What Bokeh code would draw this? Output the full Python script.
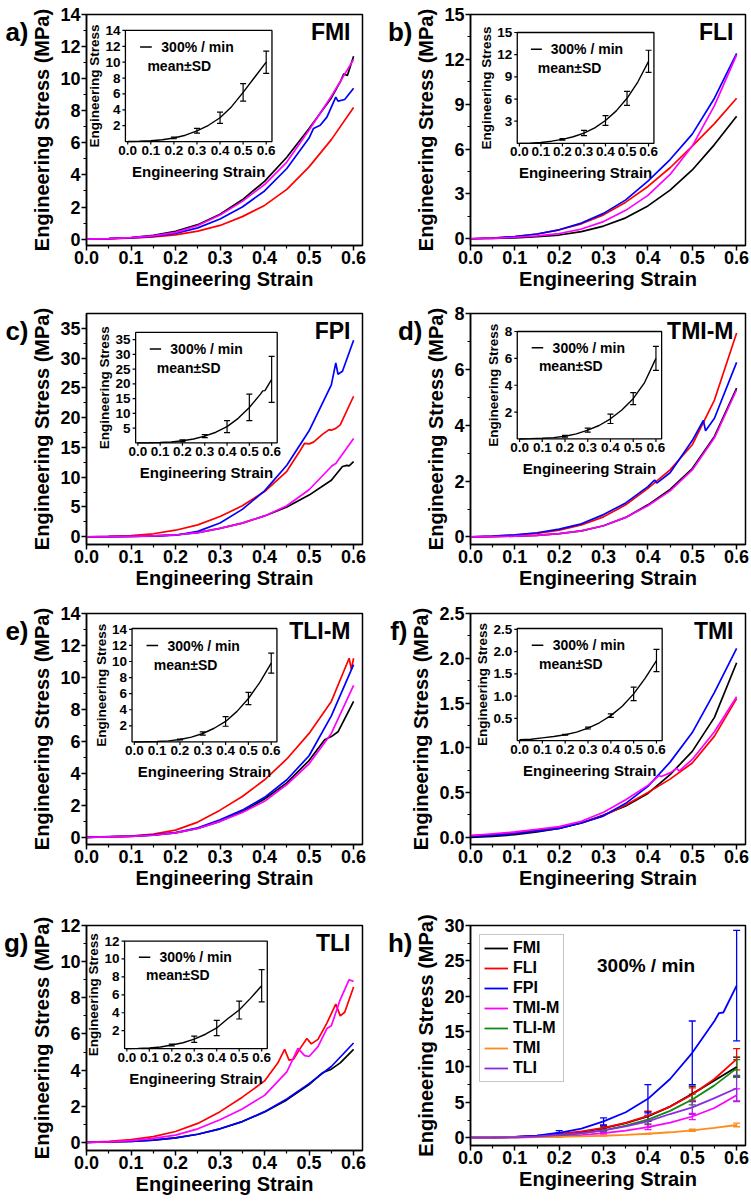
import numpy as np
from bokeh.plotting import figure
from bokeh.layouts import column, row
from bokeh.models import (Range1d, FixedTicker, PrintfTickFormatter, Label,
                          LinearAxis, CustomJSTickFormatter)
from bokeh.embed import file_html
from bokeh.resources import INLINE
from bokeh.core.properties import value

FONT = "Liberation Sans"

# ---------------- shared data ----------------
strain = [0.0, 0.05, 0.10, 0.15, 0.20, 0.25, 0.30, 0.35, 0.40, 0.45, 0.50, 0.55, 0.60]
x_ticks = [0.0, 0.1, 0.2, 0.3, 0.4, 0.5, 0.6]
x_tick_labels = ["0.0", "0.1", "0.2", "0.3", "0.4", "0.5", "0.6"]
sd_strain = [0.2, 0.3, 0.4, 0.5, 0.6]

# ---------------- mean +/- SD at 300%/min ----------------
groups = ["FMI", "FLI", "FPI", "TMI-M", "TLI-M", "TMI", "TLI"]
group_colors = ["#000000", "#ff0000", "#0000ff", "#ff00ff", "#138a13", "#ff8c1a", "#8b2be2"]

fmi_mean = [0, 0.03, 0.10, 0.22, 0.45, 0.80, 1.35, 2.05, 3.0, 4.4, 6.2, 8.1, 10.0]
fmi_sd = [0.1, 0.3, 0.7, 1.1, 1.4]
fli_mean = [0, 0.04, 0.12, 0.30, 0.55, 0.90, 1.4, 2.1, 3.1, 4.4, 6.1, 8.3, 11.1]
fli_sd = [0.1, 0.35, 0.65, 0.95, 1.5]
fpi_mean_x = [0.0, 0.05, 0.10, 0.15, 0.20, 0.25, 0.30, 0.35, 0.40, 0.45, 0.50, 0.55, 0.56, 0.57, 0.60]
fpi_mean = [0, 0.03, 0.12, 0.30, 0.70, 1.3, 2.3, 3.6, 5.5, 8.3, 12.0, 16.5, 17.6, 17.7, 21.5]
fpi_sd = [0.3, 0.5, 2.0, 4.5, 7.8]
tmim_mean = [0, 0.02, 0.05, 0.10, 0.20, 0.38, 0.65, 1.0, 1.5, 2.15, 3.0, 4.2, 6.0]
tmim_sd = [0.07, 0.15, 0.35, 0.45, 0.9]
tlim_mean = [0, 0.02, 0.05, 0.13, 0.30, 0.60, 1.05, 1.7, 2.55, 3.8, 5.4, 7.4, 9.8]
tlim_sd = [0.06, 0.2, 0.6, 0.75, 1.25]
tmi_mean = [0.02, 0.03, 0.06, 0.09, 0.13, 0.19, 0.28, 0.40, 0.56, 0.77, 1.05, 1.4, 1.8]
tmi_sd = [0.01, 0.02, 0.04, 0.15, 0.25]
tli_mean = [0, 0.02, 0.06, 0.17, 0.40, 0.65, 1.05, 1.6, 2.3, 3.35, 4.3, 5.6, 7.0]
tli_sd = [0.1, 0.35, 0.85, 1.0, 1.8]

# ---------------- individual specimens ----------------
# (a) FMI
a_black_x = [0, .05, .1, .15, .2, .25, .3, .35, .4, .45, .5, .55, .57, .578, .586, .6]
a_black_y = [0, .03, .1, .24, .48, .9, 1.55, 2.45, 3.6, 5.1, 6.9, 8.8, 9.8, 10.3, 10.2, 11.4]
a_red_y = [0, .02, .06, .13, .26, .5, .85, 1.4, 2.1, 3.1, 4.5, 6.2, 8.2]
a_blue_x = [0, .05, .1, .15, .2, .25, .3, .35, .4, .45, .5, .51, .525, .54, .56, .565, .58, .6]
a_blue_y = [0, .03, .08, .17, .35, .7, 1.25, 2.0, 3.0, 4.4, 6.3, 6.9, 7.1, 7.6, 8.85, 8.6, 8.7, 9.4]
a_mag_y = [0, .03, .09, .2, .42, .85, 1.5, 2.35, 3.4, 4.8, 6.8, 8.9, 11.2]
# (b) FLI
b_black_y = [0, .02, .06, .14, .25, .48, .85, 1.4, 2.2, 3.25, 4.6, 6.3, 8.2]
b_red_y = [0, .05, .15, .32, .6, 1.0, 1.6, 2.45, 3.5, 4.75, 6.2, 7.7, 9.4]
b_blue_y = [0, .05, .15, .32, .6, 1.05, 1.7, 2.6, 3.85, 5.3, 7.0, 9.4, 12.4]
b_mag_y = [0, .03, .1, .2, .35, .65, 1.15, 1.9, 2.9, 4.3, 6.2, 8.9, 12.3]
# (c) FPI
c_black_x = [0, .05, .1, .15, .2, .25, .3, .35, .4, .45, .5, .55, .575, .585, .59, .6]
c_black_y = [0, .02, .06, .15, .3, .7, 1.4, 2.3, 3.5, 5.0, 7.0, 9.5, 11.8, 12.0, 11.9, 12.6]
c_red_x = [0, .05, .1, .15, .2, .25, .3, .35, .4, .45, .48, .49, .5, .51, .53, .545, .55, .56, .57, .6]
c_red_y = [0, .05, .2, .5, 1.1, 2.0, 3.4, 5.2, 7.6, 11.0, 14.5, 15.7, 15.6, 15.9, 17.2, 18.0, 17.9, 18.2, 18.8, 23.6]
c_blue_x = [0, .05, .1, .15, .2, .25, .3, .35, .4, .45, .5, .55, .56, .565, .575, .6]
c_blue_y = [0, .02, .05, .1, .25, .9, 2.3, 4.6, 7.7, 12.0, 17.8, 25.5, 29.2, 27.3, 27.8, 33.0]
c_mag_x = [0, .05, .1, .15, .2, .25, .3, .35, .4, .45, .5, .55, .555, .56, .6]
c_mag_y = [0, .02, .06, .15, .3, .7, 1.4, 2.3, 3.5, 5.2, 7.9, 11.8, 12.1, 12.3, 16.5]
# (d) TMI-M
d_black_y = [0, .01, .03, .06, .12, .22, .4, .7, 1.15, 1.7, 2.45, 3.6, 5.33]
d_red_y = [0, .03, .07, .13, .24, .43, .72, 1.15, 1.74, 2.4, 3.3, 4.9, 7.3]
d_blue_x = [0, .05, .1, .15, .2, .25, .3, .35, .4, .415, .42, .45, .5, .525, .53, .55, .6]
d_blue_y = [0, .03, .08, .15, .28, .47, .8, 1.22, 1.8, 2.04, 1.93, 2.3, 3.45, 4.17, 3.8, 4.25, 6.25]
d_mag_y = [0, .01, .03, .06, .12, .22, .4, .7, 1.12, 1.65, 2.4, 3.55, 5.27]
# (e) TLI-M
e_black_x = [0, .05, .1, .15, .2, .25, .3, .35, .4, .45, .5, .535, .55, .565, .6]
e_black_y = [0, .03, .06, .13, .28, .55, 1.0, 1.6, 2.4, 3.4, 4.8, 6.1, 6.3, 6.6, 8.5]
e_red_x = [0, .05, .1, .15, .2, .25, .3, .35, .4, .45, .5, .55, .59, .595, .6]
e_red_y = [0, .03, .08, .2, .45, .95, 1.7, 2.55, 3.6, 4.9, 6.5, 8.5, 11.2, 10.5, 11.2]
e_blue_y = [0, .05, .08, .15, .3, .6, 1.1, 1.7, 2.5, 3.6, 5.1, 7.6, 10.8]
e_mag_y = [0, .03, .06, .13, .28, .55, 1.0, 1.55, 2.25, 3.3, 4.6, 6.5, 9.5]
# (f) TMI
f_black_y = [0, .01, .03, .06, .1, .16, .25, .35, .49, .7, .96, 1.34, 1.95]
f_red_y = [.02, .03, .05, .08, .11, .16, .24, .36, .5, .65, .83, 1.13, 1.55]
f_blue_y = [.01, .02, .04, .07, .1, .16, .24, .38, .57, .84, 1.17, 1.62, 2.11]
f_mag_x = [0, .05, .1, .15, .2, .25, .3, .35, .4, .425, .43, .45, .465, .47, .5, .55, .6]
f_mag_y = [.02, .04, .06, .09, .12, .18, .28, .42, .58, .69, .68, .72, .77, .74, .87, 1.18, 1.57]
# (g) TLI
g_black_x = [0, .05, .1, .15, .2, .25, .3, .35, .4, .45, .5, .53, .55, .57, .6]
g_black_y = [0, .02, .06, .12, .25, .45, .75, 1.15, 1.68, 2.35, 3.2, 3.85, 4.05, 4.4, 5.15]
g_red_x = [0, .05, .1, .15, .2, .25, .3, .35, .4, .43, .445, .455, .465, .48, .495, .505, .52, .54, .56, .57, .58, .6]
g_red_y = [0, .05, .15, .32, .6, 1.05, 1.7, 2.5, 3.4, 4.4, 5.15, 4.55, 4.6, 5.2, 5.75, 5.45, 5.7, 6.6, 7.65, 7.0, 7.2, 8.6]
g_blue_y = [0, .02, .06, .12, .25, .45, .75, 1.15, 1.7, 2.4, 3.25, 4.2, 5.5]
g_mag_x = [0, .05, .1, .15, .2, .25, .3, .35, .4, .45, .475, .49, .5, .52, .54, .55, .57, .59, .6]
g_mag_y = [0, .03, .1, .22, .4, .75, 1.25, 1.85, 2.6, 3.9, 5.2, 4.8, 4.75, 5.3, 6.3, 6.45, 7.9, 9.0, 8.9]

# ---------------- tick values ----------------
a_yticks = [0, 2, 4, 6, 8, 10, 12, 14]
b_yticks = [0, 3, 6, 9, 12, 15]
c_yticks = [0, 5, 10, 15, 20, 25, 30, 35]
d_yticks = [0, 2, 4, 6, 8]
e_yticks = [0, 2, 4, 6, 8, 10, 12, 14]
f_yticks = [0.0, 0.5, 1.0, 1.5, 2.0, 2.5]
g_yticks = [0, 2, 4, 6, 8, 10, 12]
h_yticks = [0, 5, 10, 15, 20, 25, 30]

BLACK, RED, BLUE, MAG = "#000000", "#ff0000", "#0000ff", "#ff00ff"


def minor_of(t):
    return [(a + b) / 2 for a, b in zip(t[:-1], t[1:])]


def make_fig(col, yr, yticks, yfmt, mbt, fh, mbb):
    if col == 0:
        fw, mbl, mbr = 276, 86, 8
    else:
        fw, mbl, mbr = 275, 100, 5
    p = figure(frame_width=fw, frame_height=fh,
               x_range=Range1d(0, 0.62), y_range=Range1d(*yr),
               min_border_left=mbl, min_border_right=mbr,
               min_border_top=mbt, min_border_bottom=mbb,
               toolbar_location=None, output_backend="svg",
               x_axis_label="Engineering Strain",
               y_axis_label="Engineering Stress (MPa)")
    p.grid.visible = False
    p.outline_line_color = "black"
    p.outline_line_width = 1.5
    p.outline_line_alpha = 1.0
    p.background_fill_color = "white"
    p.border_fill_color = "white"
    p.xaxis.ticker = FixedTicker(ticks=x_ticks, minor_ticks=minor_of(x_ticks))
    p.yaxis.ticker = FixedTicker(ticks=yticks, minor_ticks=minor_of(yticks))
    p.xaxis.formatter = PrintfTickFormatter(format="%.1f")
    p.yaxis.formatter = PrintfTickFormatter(format=yfmt)
    for ax in p.axis:
        ax.axis_line_width = 1.5
        ax.axis_line_color = "black"
        ax.major_tick_line_width = 1.5
        ax.minor_tick_line_width = 1.2
        ax.major_tick_in = 0
        ax.major_tick_out = 5
        ax.minor_tick_in = 0
        ax.minor_tick_out = 3
        ax.major_label_text_font = FONT
        ax.major_label_text_font_size = "18px"
        ax.major_label_text_font_style = "bold"
        ax.major_label_text_color = "black"
        ax.axis_label_text_font = FONT
        ax.axis_label_text_font_size = "20px"
        ax.axis_label_text_font_style = "bold"
        ax.axis_label_text_color = "black"
    p.xaxis.major_label_standoff = 0
    p.xaxis.axis_label_standoff = 1
    p.yaxis.major_label_standoff = 1
    p.yaxis.axis_label_standoff = 4
    return p, fw


def add_letter(p, yr, fh, letter):
    # panel letter shown as the single label of an extra, line-less left axis
    ypos = yr[1] - 17.0 * (yr[1] - yr[0]) / fh
    ax = LinearAxis(ticker=FixedTicker(ticks=[ypos], minor_ticks=[]),
                    formatter=CustomJSTickFormatter(code="return '%s'" % letter))
    ax.axis_line_color = None
    ax.major_tick_line_color = None
    ax.minor_tick_line_color = None
    ax.major_tick_out = 0
    ax.major_tick_in = 0
    ax.major_label_standoff = 0
    ax.major_label_text_font = FONT
    ax.major_label_text_font_size = "26px"
    ax.major_label_text_font_style = "bold"
    ax.major_label_text_color = "black"
    p.add_layout(ax, "left")


def add_name(p, fw, fh, name):
    p.add_layout(Label(x=fw - 12, y=fh - 30, x_units="screen", y_units="screen",
                       text=name, text_font=FONT, text_font_size="23px",
                       text_font_style="bold", text_color="black", text_align="right"))


def txt(sub, x, y, s, size, **kw):
    sub.text(x=x, y=y, text=s, text_font=value(FONT), text_font_size=size,
             text_font_style="bold", text_color="black", **kw)


def add_inset(p, yr, frac, iy, iyticks, iyfmt, mx, my, sdv):
    xr = (0, 0.62)
    fl, fr, ft, fb = frac
    ix = (-0.01, 0.625)
    sub = p.subplot(
        x_source=Range1d(*ix), y_source=Range1d(*iy),
        x_target=Range1d(xr[0] + fl * (xr[1] - xr[0]), xr[0] + fr * (xr[1] - xr[0])),
        y_target=Range1d(yr[1] - fb * (yr[1] - yr[0]), yr[1] - ft * (yr[1] - yr[0])))
    sub.quad(left=[ix[0]], right=[ix[1]], bottom=[iy[0]], top=[iy[1]],
             fill_color="white", line_color="black", line_width=1.3)
    sub.ray(x=x_ticks, y=[iy[0]] * len(x_ticks), length=3, length_units="screen",
            angle=-np.pi / 2, line_color="black", line_width=1.2)
    sub.ray(x=[ix[0]] * len(iyticks), y=iyticks, length=3, length_units="screen",
            angle=np.pi, line_color="black", line_width=1.2)
    txt(sub, x_ticks, [iy[0]] * len(x_ticks), x_tick_labels, "13.5px",
        y_offset=4, text_align="center", text_baseline="top")
    ylabels = [iyfmt % t for t in iyticks]
    txt(sub, [ix[0]] * len(iyticks), iyticks, ylabels, "13.5px",
        x_offset=-5, text_align="right", text_baseline="middle")
    txt(sub, [(ix[0] + ix[1]) / 2], [iy[0]], ["Engineering Strain"], "15px",
        y_offset=21, text_align="center", text_baseline="top")
    wlab = max(sum(3.8 if ch == "." else 7.5 for ch in s) for s in ylabels)
    txt(sub, [ix[0]], [(iy[0] + iy[1]) / 2], ["Engineering Stress"], "13.5px",
        angle=np.pi / 2, x_offset=-(4 + wlab + 12), text_align="center", text_baseline="middle")
    W, H = ix[1] - ix[0], iy[1] - iy[0]
    ly = iy[1] - 0.15 * H
    sub.segment(x0=[ix[0] + 0.10 * W], y0=[ly], x1=[ix[0] + 0.18 * W], y1=[ly],
                line_color="black", line_width=1.5)
    txt(sub, [ix[0] + 0.245 * W], [ly], ["300% / min"], "14px",
        text_align="left", text_baseline="middle")
    txt(sub, [ix[0] + 0.15 * W], [iy[1] - 0.32 * H], ["mean\u00b1SD"], "14px",
        text_align="left", text_baseline="middle")
    sub.line(mx, my, line_color="black", line_width=1.4)
    at = dict(zip(mx, my))
    m = [at[s] for s in sd_strain]
    lo = [a - b for a, b in zip(m, sdv)]
    hi = [a + b for a, b in zip(m, sdv)]
    sub.segment(x0=sd_strain, y0=lo, x1=sd_strain, y1=hi, line_color="black", line_width=1.2)
    sub.scatter(sd_strain, lo, marker="dash", size=6, line_color="black", line_width=1.2)
    sub.scatter(sd_strain, hi, marker="dash", size=6, line_color="black", line_width=1.2)


LW = 1.7

panels = [
    dict(col=0, letter="a)", name="FMI", yr=(-0.4, 14), yticks=a_yticks, yfmt="%d", mbt=14, fh=231, mbb=55,
         curves=[(a_black_x, a_black_y, BLACK), (strain, a_red_y, RED),
                 (a_blue_x, a_blue_y, BLUE), (strain, a_mag_y, MAG)],
         frac=(0.141, 0.672, 0.069, 0.55), iy=(0, 14), iyticks=a_yticks[1:], iyfmt="%d",
         mx=strain, my=fmi_mean, sd=fmi_sd),
    dict(col=1, letter="b)", name="FLI", yr=(-0.45, 15), yticks=b_yticks, yfmt="%d", mbt=14, fh=231, mbb=55,
         curves=[(strain, b_black_y, BLACK), (strain, b_red_y, RED),
                 (strain, b_blue_y, BLUE), (strain, b_mag_y, MAG)],
         frac=(0.17, 0.667, 0.078, 0.558), iy=(0, 15), iyticks=b_yticks[1:], iyfmt="%d",
         mx=strain, my=fli_mean, sd=fli_sd),
    dict(col=0, letter="c)", name="FPI", yr=(-1.3, 37.5), yticks=c_yticks, yfmt="%d", mbt=13, fh=231, mbb=56,
         curves=[(c_black_x, c_black_y, BLACK), (c_red_x, c_red_y, RED),
                 (c_blue_x, c_blue_y, BLUE), (c_mag_x, c_mag_y, MAG)],
         frac=(0.178, 0.691, 0.082, 0.56), iy=(0, 37.4), iyticks=c_yticks[1:], iyfmt="%d",
         mx=fpi_mean_x, my=fpi_mean, sd=fpi_sd),
    dict(col=1, letter="d)", name="TMI-M", yr=(-0.27, 8), yticks=d_yticks, yfmt="%d", mbt=13, fh=231, mbb=56,
         curves=[(strain, d_black_y, BLACK), (strain, d_red_y, RED),
                 (d_blue_x, d_blue_y, BLUE), (strain, d_mag_y, MAG)],
         frac=(0.17, 0.695, 0.078, 0.543), iy=(0, 8), iyticks=d_yticks[1:], iyfmt="%d",
         mx=strain, my=tmim_mean, sd=tmim_sd),
    dict(col=0, letter="e)", name="TLI-M", yr=(-0.45, 14), yticks=e_yticks, yfmt="%d", mbt=13, fh=231, mbb=66,
         curves=[(e_black_x, e_black_y, BLACK), (e_red_x, e_red_y, RED),
                 (strain, e_blue_y, BLUE), (strain, e_mag_y, MAG)],
         frac=(0.165, 0.69, 0.065, 0.556), iy=(0, 14.1), iyticks=e_yticks[1:], iyfmt="%d",
         mx=strain, my=tlim_mean, sd=tlim_sd),
    dict(col=1, letter="f)", name="TMI", yr=(-0.08, 2.5), yticks=f_yticks, yfmt="%.1f", mbt=13, fh=231, mbb=66,
         curves=[(strain, f_black_y, BLACK), (strain, f_red_y, RED),
                 (strain, f_blue_y, BLUE), (f_mag_x, f_mag_y, MAG)],
         frac=(0.17, 0.697, 0.065, 0.55), iy=(0, 2.52), iyticks=f_yticks[1:], iyfmt="%.1f",
         mx=strain, my=tmi_mean, sd=tmi_sd),
    dict(col=0, letter="g)", name="TLI", yr=(-0.45, 12), yticks=g_yticks, yfmt="%d", mbt=13, fh=225, mbb=52,
         curves=[(g_black_x, g_black_y, BLACK), (g_red_x, g_red_y, RED),
                 (strain, g_blue_y, BLUE), (g_mag_x, g_mag_y, MAG)],
         frac=(0.138, 0.655, 0.069, 0.547), iy=(0, 12), iyticks=g_yticks[1:], iyfmt="%d",
         mx=strain, my=tli_mean, sd=tli_sd),
]

figs = []
for spec in panels:
    p, fw = make_fig(spec["col"], spec["yr"], spec["yticks"], spec["yfmt"],
                     spec["mbt"], spec["fh"], spec["mbb"])
    for xs, ys, c in spec["curves"]:
        p.line(xs, ys, line_color=c, line_width=LW)
    add_inset(p, spec["yr"], spec["frac"], spec["iy"], spec["iyticks"], spec["iyfmt"],
              spec["mx"], spec["my"], spec["sd"])
    add_letter(p, spec["yr"], spec["fh"], spec["letter"])
    add_name(p, fw, spec["fh"], spec["name"])
    figs.append(p)

# ---------------- (h) summary ----------------
h_yr = (-1.1, 30)
h_fh = 220
ph, fw = make_fig(1, h_yr, h_yticks, "%d", 15, h_fh, 55)
h_means = [(strain, fmi_mean, fmi_sd), (strain, fli_mean, fli_sd), (fpi_mean_x, fpi_mean, fpi_sd),
           (strain, tmim_mean, tmim_sd), (strain, tlim_mean, tlim_sd), (strain, tmi_mean, tmi_sd),
           (strain, tli_mean, tli_sd)]
for (mx, my, sdv), c in zip(h_means, group_colors):
    at = dict(zip(mx, my))
    m = [at[s] for s in sd_strain]
    lo = [a - b for a, b in zip(m, sdv)]
    hi = [a + b for a, b in zip(m, sdv)]
    ph.segment(x0=sd_strain, y0=lo, x1=sd_strain, y1=hi, line_color=c, line_width=1.3)
    ph.scatter(sd_strain, lo, marker="dash", size=7, line_color=c, line_width=1.3)
    ph.scatter(sd_strain, hi, marker="dash", size=7, line_color=c, line_width=1.3)
for (mx, my, sdv), c, g in zip(h_means, group_colors, groups):
    ph.line(mx, my, line_color=c, line_width=1.8, legend_label=g)

lg = ph.legend[0]
lg.location = "top_left"
lg.margin = 9
lg.padding = 4
lg.spacing = 2
lg.label_height = 18
lg.glyph_height = 18
lg.glyph_width = 24
lg.label_standoff = 5
lg.label_text_font = FONT
lg.label_text_font_size = "16px"
lg.label_text_font_style = "bold"
lg.label_text_color = "black"
lg.border_line_color = "#8c8c8c"
lg.border_line_width = 1.2
lg.background_fill_alpha = 1.0

ph.add_layout(Label(x=0.46 * fw, y=h_fh - 40, x_units="screen", y_units="screen",
                    text="300% / min", text_font=FONT, text_font_size="19px",
                    text_font_style="bold", text_color="black", text_baseline="middle"))
add_letter(ph, h_yr, h_fh, "h)")
figs.append(ph)

layout = column(row(figs[0], figs[1]), row(figs[2], figs[3]),
                row(figs[4], figs[5]), row(figs[6], figs[7]))

with open("out.html", "w") as f:
    f.write(file_html(layout, INLINE, title="Engineering stress-strain"))
